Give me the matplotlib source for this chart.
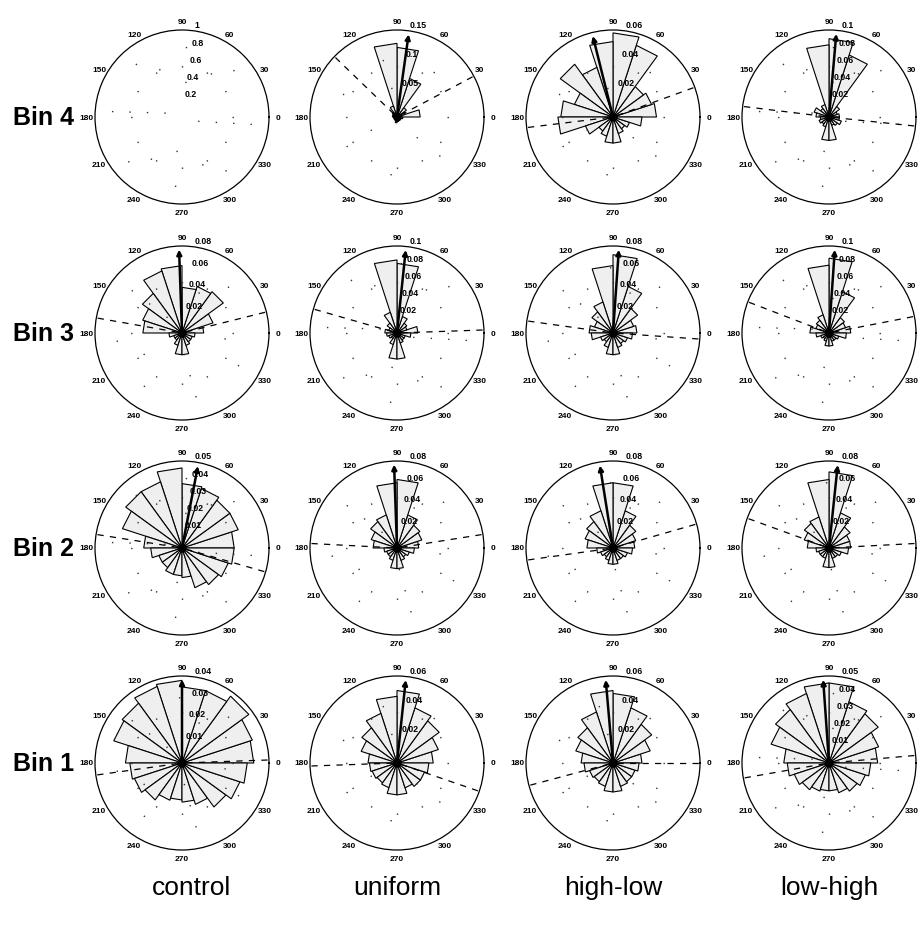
import numpy as np
import matplotlib
matplotlib.use("Agg")
import matplotlib.pyplot as plt
from matplotlib import font_manager

# fonts: narrow sans for the big labels if present
names = {f.name for f in font_manager.fontManager.ttflist}
big_font = "Liberation Sans Narrow" if "Liberation Sans Narrow" in names else "Liberation Sans"
small_font = "Liberation Sans"

conditions = ["control", "uniform", "high-low", "low-high"]
bin_names = ["Bin 4", "Bin 3", "Bin 2", "Bin 1"]
n_sectors = 20  # rose sectors of 18 degrees, sector k spans [18k, 18k+18]

# fraction of trials per sector (sector 0 starts at 0 deg, counter-clockwise)
control_bin4 = [0.0] * 20
control_bin3 = [0.020, 0.030, 0.047, 0.045, 0.042, 0.062, 0.060, 0.045, 0.038, 0.036,
                0.012, 0.008, 0.008, 0.012, 0.020, 0.020, 0.012, 0.010, 0.010, 0.012]
control_bin2 = [0.030, 0.034, 0.034, 0.036, 0.037, 0.046, 0.040, 0.040, 0.036, 0.022,
                0.018, 0.014, 0.014, 0.016, 0.016, 0.017, 0.024, 0.026, 0.028, 0.030]
control_bin1 = [0.033, 0.034, 0.038, 0.035, 0.035, 0.038, 0.037, 0.034, 0.033, 0.026,
                0.024, 0.023, 0.021, 0.018, 0.017, 0.018, 0.020, 0.025, 0.028, 0.030]

uniform_bin4 = [0.040, 0.015, 0.020, 0.070, 0.120, 0.127, 0.020, 0.010, 0.008, 0.008,
                0.006, 0.005, 0.006, 0.006, 0.010, 0.008, 0.006, 0.005, 0.006, 0.010]
uniform_bin3 = [0.024, 0.012, 0.014, 0.020, 0.080, 0.084, 0.025, 0.014, 0.010, 0.014,
                0.012, 0.010, 0.008, 0.014, 0.030, 0.030, 0.012, 0.010, 0.010, 0.016]
uniform_bin2 = [0.020, 0.024, 0.026, 0.032, 0.063, 0.060, 0.032, 0.030, 0.025, 0.022,
                0.012, 0.010, 0.010, 0.012, 0.019, 0.019, 0.012, 0.010, 0.012, 0.016]
uniform_bin1 = [0.025, 0.030, 0.036, 0.040, 0.050, 0.046, 0.036, 0.030, 0.026, 0.020,
                0.019, 0.018, 0.017, 0.018, 0.022, 0.022, 0.018, 0.020, 0.020, 0.022]

highlow_bin4 = [0.030, 0.028, 0.026, 0.052, 0.058, 0.052, 0.036, 0.045, 0.028, 0.036,
                0.038, 0.020, 0.012, 0.014, 0.018, 0.018, 0.012, 0.010, 0.012, 0.020]
highlow_bin3 = [0.022, 0.020, 0.028, 0.045, 0.072, 0.062, 0.030, 0.024, 0.018, 0.022,
                0.020, 0.012, 0.010, 0.014, 0.020, 0.020, 0.014, 0.012, 0.014, 0.018]
highlow_bin2 = [0.020, 0.022, 0.026, 0.036, 0.060, 0.060, 0.036, 0.030, 0.027, 0.024,
                0.015, 0.012, 0.010, 0.012, 0.015, 0.015, 0.012, 0.012, 0.014, 0.018]
highlow_bin1 = [0.020, 0.027, 0.033, 0.040, 0.048, 0.050, 0.037, 0.030, 0.027, 0.022,
                0.020, 0.017, 0.016, 0.017, 0.020, 0.020, 0.017, 0.016, 0.016, 0.018]

lowhigh_bin4 = [0.012, 0.010, 0.015, 0.075, 0.090, 0.083, 0.015, 0.012, 0.018, 0.015,
                0.010, 0.012, 0.010, 0.012, 0.027, 0.027, 0.010, 0.012, 0.015, 0.012]
lowhigh_bin3 = [0.025, 0.020, 0.022, 0.050, 0.086, 0.078, 0.022, 0.018, 0.016, 0.022,
                0.015, 0.010, 0.008, 0.010, 0.015, 0.015, 0.010, 0.010, 0.012, 0.020]
lowhigh_bin2 = [0.020, 0.020, 0.024, 0.034, 0.070, 0.063, 0.030, 0.028, 0.024, 0.020,
                0.012, 0.010, 0.010, 0.010, 0.018, 0.018, 0.010, 0.010, 0.012, 0.018]
lowhigh_bin1 = [0.028, 0.030, 0.035, 0.037, 0.046, 0.046, 0.042, 0.038, 0.035, 0.026,
                0.024, 0.021, 0.019, 0.017, 0.016, 0.016, 0.018, 0.020, 0.022, 0.024]

roses = [[control_bin4, uniform_bin4, highlow_bin4, lowhigh_bin4],
         [control_bin3, uniform_bin3, highlow_bin3, lowhigh_bin3],
         [control_bin2, uniform_bin2, highlow_bin2, lowhigh_bin2],
         [control_bin1, uniform_bin1, highlow_bin1, lowhigh_bin1]]

# radial ticks, the last one is the outer circle
rticks = [[[0.2, 0.4, 0.6, 0.8, 1], [0.05, 0.1, 0.15], [0.02, 0.04, 0.06], [0.02, 0.04, 0.06, 0.08, 0.1]],
          [[0.02, 0.04, 0.06, 0.08], [0.02, 0.04, 0.06, 0.08, 0.1], [0.02, 0.04, 0.06, 0.08], [0.02, 0.04, 0.06, 0.08, 0.1]],
          [[0.01, 0.02, 0.03, 0.04, 0.05], [0.02, 0.04, 0.06, 0.08], [0.02, 0.04, 0.06, 0.08], [0.02, 0.04, 0.06, 0.08]],
          [[0.01, 0.02, 0.03, 0.04], [0.02, 0.04, 0.06], [0.02, 0.04, 0.06], [0.01, 0.02, 0.03, 0.04, 0.05]]]

# mean direction (deg) and the two dashed limits (deg); None = no data
mean_dir = [[None, 82, 104, 85],
            [92, 84, 86, 86],
            [79, 92, 99, 84],
            [90, 84, 95, 94]]
limits = [[None, (136, 28), (187, 20), (173, 354)],
          [(170, 14), (164, 2), (172, 356), (159, 11)],
          [(171, 344), (177, 9), (188, 16), (160, 3)],
          [(188, 2), (182, 341), (195, 0), (190, 5)]]

angle_labels = list(range(0, 360, 30))

W, H = 921, 929
col_x = [182, 397, 613, 829]
row_y = [118, 334, 549, 764]
rad = 87

fig = plt.figure(figsize=(W / 100, H / 100), dpi=100)
edges = np.deg2rad(np.arange(n_sectors + 1) * 360 / n_sectors)
ring = np.linspace(0, 2 * np.pi, 361)
dots = dict(color="0.2", lw=1.0, ls=(3, (1, 38)), zorder=4)

for i in range(4):
    for j in range(4):
        cx, cy = col_x[j], row_y[i]
        ax = fig.add_axes([(cx - rad) / W, 1 - (cy + rad) / H, 2 * rad / W, 2 * rad / H],
                          projection="polar")
        ticks = rticks[i][j]
        rmax = ticks[-1]
        ax.set_ylim(0, rmax)
        ax.set_xticks([])
        ax.set_yticks([])
        ax.grid(False)
        ax.spines["polar"].set_linewidth(0.9)

        # dotted grid (sparse, as in the low-res original)
        for t in ticks[:-1]:
            ax.plot(ring, [t] * len(ring), **dots)
        for a in range(0, 360, 30):
            ax.plot([np.deg2rad(a)] * 2, [0, rmax], **dots)

        # rose sectors
        vals = roses[i][j]
        for k, v in enumerate(vals):
            if v <= 0:
                continue
            ax.fill([0, edges[k], edges[k + 1], 0], [0, v, v, 0],
                    facecolor="#efefef", edgecolor="k", lw=0.8, zorder=2)
        if max(vals) > 0:
            ax.plot([0], [0], "o", color="k", ms=5, zorder=3)

        # angle labels
        for a in angle_labels:
            ax.text(np.deg2rad(a), 1.1 * rmax, str(a), ha="center", va="center",
                    fontsize=6, fontweight="bold", family=small_font, clip_on=False)
        # radial labels
        for t in ticks:
            ax.text(np.deg2rad(82), t + rmax / 60, "%g" % t, ha="left", va="bottom",
                    fontsize=6.3, fontweight="bold", family=small_font, clip_on=False, zorder=6)

        if mean_dir[i][j] is not None:
            for a in limits[i][j]:
                ax.plot([np.deg2rad(a)] * 2, [0.05 * rmax, rmax], color="k", lw=0.9,
                        ls=(0, (5, 5)), zorder=5)
            ax.annotate("", xy=(np.deg2rad(mean_dir[i][j]), 0.96 * rmax), xytext=(0, 0),
                        arrowprops=dict(arrowstyle="-|>", color="k", lw=1.8,
                                        mutation_scale=7, shrinkA=0, shrinkB=0),
                        zorder=5)

for i, name in enumerate(bin_names):
    fig.text(13 / W, 1 - row_y[i] / H, name, ha="left", va="center", fontsize=18,
             fontweight="bold", family=big_font)
for j, name in enumerate(conditions):
    x = 191 if j == 0 else col_x[j]
    fig.text(x / W, 1 - 888 / H, name, ha="center", va="center", fontsize=19,
             family="Liberation Sans")

fig.savefig("out.png", dpi=100)
